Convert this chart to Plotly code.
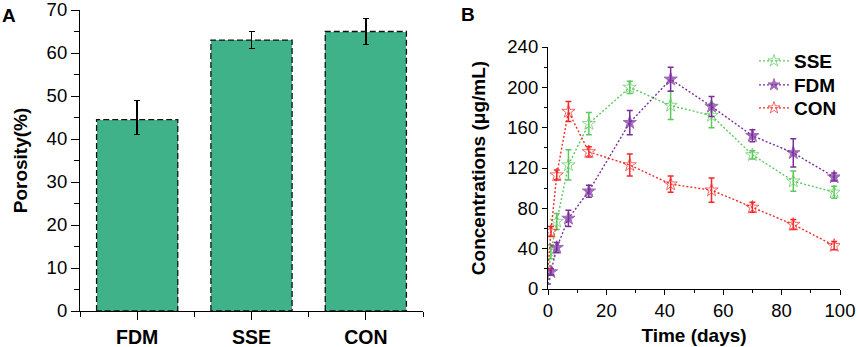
import plotly.graph_objects as go

# ---- Panel A data ----
categories = ["FDM", "SSE", "CON"]
porosity = [44.5, 63.0, 65.0]
porosity_err_plus = [4.5, 2.0, 3.0]
porosity_err_minus = [3.5, 2.0, 3.0]

# ---- Panel B data ----
days = [0, 1, 3, 7, 14, 28, 42, 56, 70, 84, 98]
sse = [10, 37, 67, 123, 164, 200, 182, 172, 133, 107, 96]
sse_err = [0, 7, 8, 15, 11, 6, 14, 12, 4, 10, 6]
fdm = [5, 17, 41, 70, 97, 165, 208, 181, 152, 135, 111]
fdm_err = [0, 3, 5, 8, 6, 12, 12, 10, 6, 14, 4]
con = [20, 57, 113, 176, 136, 123, 104, 98, 81, 64, 43]
con_err = [0, 5, 5, 10, 5, 11, 8, 12, 5, 5, 4]

FONT = "Liberation Sans, Arial, sans-serif"
BAR_COLOR = "#40B28A"
BAR_W = 0.71
TICK_SIZE = 18.5
TITLE_SIZE = 19
W, H = 858, 347

fig = go.Figure()

xpos = list(range(len(categories)))
fig.add_trace(go.Bar(
    x=xpos, y=porosity, width=BAR_W, marker=dict(color=BAR_COLOR, line=dict(width=0)),
    error_y=dict(type="data", symmetric=False, array=porosity_err_plus,
                 arrayminus=porosity_err_minus, color="black", thickness=1.5, width=3),
    xaxis="x", yaxis="y", showlegend=False,
))
# dashed outlines of the bars, derived from the data
for i, v in zip(xpos, porosity):
    fig.add_trace(go.Scatter(
        x=[i - BAR_W / 2, i - BAR_W / 2, i + BAR_W / 2, i + BAR_W / 2, i - BAR_W / 2],
        y=[0, v, v, 0, 0], mode="lines",
        line=dict(color="#111111", width=1.3, dash="6px,3px"),
        xaxis="x", yaxis="y", showlegend=False, hoverinfo="skip", cliponaxis=False,
    ))

series = [
    ("SSE", sse, sse_err, "#5CC95C", "star-open", "legend"),
    ("FDM", fdm, fdm_err, "#7B2D9E", "star", "legend2"),
    ("CON", con, con_err, "#F42A2A", "star-open", "legend3"),
]
for name, vals, errs, col, sym, leg in series:
    sizes = [0] + [10] * (len(vals) - 1)
    fig.add_trace(go.Scatter(
        x=days, y=vals, name=name, mode="lines+markers", legend=leg,
        line=dict(color=col, width=1.4, dash="2px,2px"),
        marker=dict(symbol=sym, size=sizes, color=col, line=dict(color=col, width=1)),
        error_y=dict(type="data", array=errs, color=col, thickness=1.5, width=3),
        xaxis="x2", yaxis="y2",
    ))

axis_common = dict(showline=True, linecolor="black", linewidth=1.2, showgrid=False,
                   zeroline=False, ticks="outside", tickcolor="black", automargin=False,
                   ticklabeloverflow="allow",
                   tickfont=dict(family=FONT, size=TICK_SIZE, color="black"))
no_font = {k: v for k, v in axis_common.items() if k != "tickfont"}


def legend_at(ycenter):
    return dict(x=754 / W, y=1 - ycenter / H, xanchor="left", yanchor="middle",
                bgcolor="rgba(0,0,0,0)",
                font=dict(family=FONT, size=19, color="black", weight="bold"),
                itemwidth=30)


fig.update_layout(
    width=W, height=H,
    margin=dict(l=0, r=0, t=0, b=0, autoexpand=False),
    paper_bgcolor="white", plot_bgcolor="white",
    font=dict(family=FONT, color="black"),
    bargap=0,
    xaxis=dict(domain=[80 / W, 423 / W], range=[-0.5, 2.5], anchor="y",
               tickvals=xpos, ticktext=categories, ticklen=8, tickwidth=1.2,
               tickfont=dict(family=FONT, size=19.5, color="black", weight="bold"),
               minor=dict(tickvals=[-0.5, 0.5, 1.5, 2.5], ticklen=5, tickwidth=1.2,
                          ticks="outside", tickcolor="black"),
               **no_font),
    yaxis=dict(domain=[1 - 311 / H, 1 - 10 / H], range=[0, 70], anchor="x",
               dtick=10, ticklen=8, tickwidth=1.2,
               minor=dict(dtick=5, ticklen=5, tickwidth=1.2, ticks="outside", tickcolor="black"),
               title=dict(text="Porosity(%)", standoff=13,
                          font=dict(family=FONT, size=TITLE_SIZE, color="black", weight="bold")),
               **axis_common),
    xaxis2=dict(domain=[548 / W, 840 / W], range=[0, 100], anchor="y2",
                dtick=20, ticklen=5, tickwidth=1.2,
                minor=dict(dtick=10, ticklen=3, tickwidth=1.2, ticks="outside", tickcolor="black"),
                title=dict(text="Time (days)", standoff=8,
                           font=dict(family=FONT, size=TITLE_SIZE, color="black", weight="bold")),
                **axis_common),
    yaxis2=dict(domain=[1 - 289 / H, 1 - 47 / H], range=[0, 240], anchor="x2",
                dtick=40, ticklen=5, tickwidth=1.2,
                minor=dict(dtick=20, ticklen=3, tickwidth=1.2, ticks="outside", tickcolor="black"),
                title=dict(text="Concentrations (μg/mL)", standoff=16,
                           font=dict(family=FONT, size=TITLE_SIZE, color="black", weight="bold")),
                **axis_common),
    legend=legend_at(61),
    legend2=legend_at(85),
    legend3=legend_at(108),
    annotations=[
        dict(text="<b>A</b>", x=0 / W, y=1 - 3 / H, xref="paper", yref="paper",
             xanchor="left", yanchor="top", showarrow=False,
             font=dict(family=FONT, size=19, color="black")),
        dict(text="<b>B</b>", x=459 / W, y=1 - 2 / H, xref="paper", yref="paper",
             xanchor="left", yanchor="top", showarrow=False,
             font=dict(family=FONT, size=19, color="black")),
    ],
)

fig.write_html("out.html", config={"displayModeBar": False},
               post_script="document.body.style.margin='0';")
